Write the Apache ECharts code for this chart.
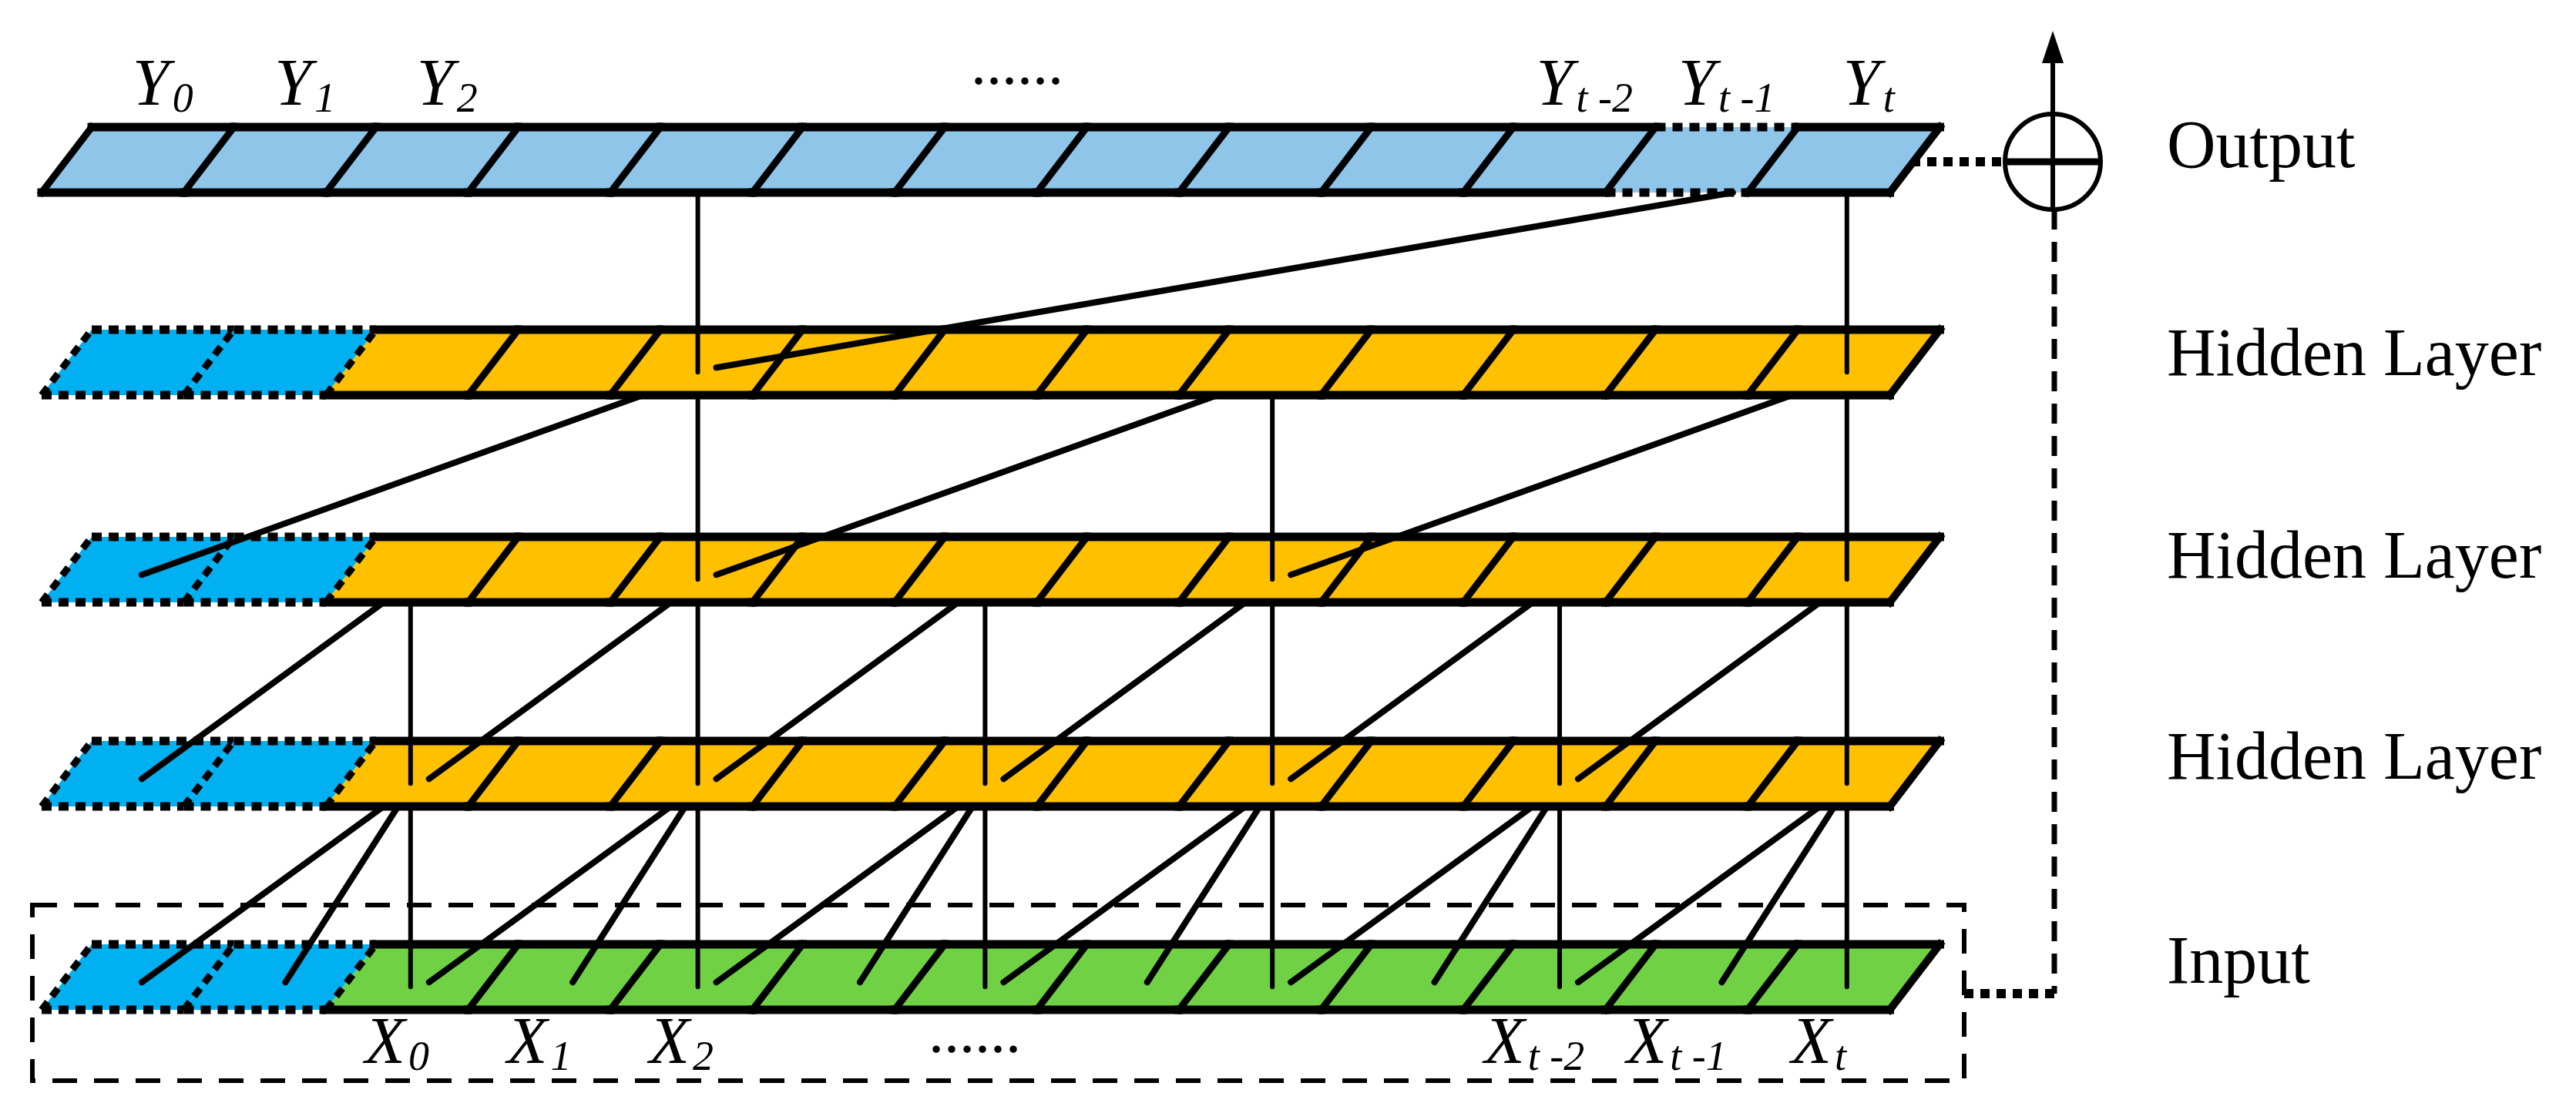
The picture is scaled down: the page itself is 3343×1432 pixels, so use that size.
<!DOCTYPE html>
<html><head><meta charset="utf-8">
<script src="https://cdn.jsdelivr.net/npm/echarts@6/dist/echarts.min.js"></script>
<style>html,body{margin:0;padding:0;background:#fff}#c{width:3343px;height:1432px}</style>
</head><body><div id="c"></div>
<script>
// ---- data ----
const layerNames = ['Output', 'Hidden Layer', 'Hidden Layer', 'Hidden Layer', 'Input'];
const cellCount = 13;
const padCells = [0, 2, 2, 2, 2];
const dottedCells = [[0, 11]];
const outputLabels = [[0, 'Y', '0'], [1, 'Y', '1'], [2, 'Y', '2'], [10, 'Y', 't -2'], [11, 'Y', 't -1'], [12, 'Y', 't']];
const inputLabels = [[2, 'X', '0'], [3, 'X', '1'], [4, 'X', '2'], [10, 'X', 't -2'], [11, 'X', 't -1'], [12, 'X', 't']];
// edges: [lowerLayer, lowerCell, upperLayer, upperCell]
const edgesOutH1 = [[1, 4, 0, 4], [1, 12, 0, 12], [1, 4, 0, 12]];
const edgesH1H2 = [[2, 4, 1, 4], [2, 8, 1, 8], [2, 12, 1, 12], [2, 0, 1, 4], [2, 4, 1, 8], [2, 8, 1, 12]];
const edgesH2H3 = [[3, 2, 2, 2], [3, 4, 2, 4], [3, 6, 2, 6], [3, 8, 2, 8], [3, 10, 2, 10], [3, 12, 2, 12],
  [3, 0, 2, 2], [3, 2, 2, 4], [3, 4, 2, 6], [3, 6, 2, 8], [3, 8, 2, 10], [3, 10, 2, 12]];
const edgesH3In = [[4, 2, 3, 2], [4, 4, 3, 4], [4, 6, 3, 6], [4, 8, 3, 8], [4, 10, 3, 10], [4, 12, 3, 12],
  [4, 1, 3, 2], [4, 0, 3, 2], [4, 3, 3, 4], [4, 2, 3, 4], [4, 5, 3, 6], [4, 4, 3, 6],
  [4, 7, 3, 8], [4, 6, 3, 8], [4, 9, 3, 10], [4, 8, 3, 10], [4, 11, 3, 12], [4, 10, 3, 12]];

// ---- style / geometry ----
const layerFill = ['#8EC5E8', '#FFC000', '#FFC000', '#FFC000', '#70D144'];
const padFill = '#00B0F0';
const layerTop = [165, 428, 697, 962, 1226];
const barH = 85, cellW = 184.5, xBase = 54, slant = 65;
const serif = '"Liberation Serif", "Times New Roman", serif';
const cx = i => 160 + 186.4 * i;

const cellData = [];
layerNames.forEach((n, L) => { for (let c = 0; c < cellCount; c++) cellData.push([L, c]); });
const edges = [].concat(edgesOutH1, edgesH1H2, edgesH2H3, edgesH3In);

function isDotted(L, c) { return dottedCells.some(d => d[0] === L && d[1] === c); }

function seg(api, a, b, dashed, w) {
  const p = api.coord(a), q = api.coord(b);
  return { type: 'line', shape: { x1: p[0], y1: p[1], x2: q[0], y2: q[1] },
    style: { stroke: '#000', lineWidth: w, lineDash: dashed ? [13, 9] : null, lineCap: dashed ? 'butt' : 'square' } };
}

function renderCell(params, api) {
  const L = api.value(0), c = api.value(1);
  const T = layerTop[L], B = T + barH;
  const bl = [xBase + cellW * c, B], br = [xBase + cellW * (c + 1), B];
  const tl = [bl[0] + slant, T], tr = [br[0] + slant, T];
  const pad = c < padCells[L];
  const fill = pad ? padFill : layerFill[L];
  const pts = [tl, tr, br, bl].map(p => api.coord(p));
  const horizDash = pad || isDotted(L, c);
  const leftDash = pad || (c > 0 && c - 1 < padCells[L]);
  const children = [
    { type: 'polygon', shape: { points: pts }, style: { fill: fill } },
    seg(api, tl, tr, horizDash, 11),
    seg(api, bl, br, horizDash, 11),
    seg(api, bl, tl, leftDash, 9)
  ];
  if (c === cellCount - 1) children.push(seg(api, br, tr, false, 10));
  return { type: 'group', children };
}

function renderEdge(params, api) {
  const lo = api.value(0), lc = api.value(1), up = api.value(2), uc = api.value(3);
  const upB = layerTop[up] + barH;
  const lowY = layerTop[lo] + barH * 0.65;
  let a, b, w;
  if (lc === uc) { a = [cx(lc), upB]; b = [cx(lc), lowY]; w = 6; }
  else {
    const S = [cx(lc) + 24, lowY - 6];
    const A = [cx(uc), layerTop[up] + barH * 0.7];
    const t = (S[1] - upB) / (S[1] - A[1]);
    a = S; b = [S[0] + t * (A[0] - S[0]), upB]; w = 8;
  }
  const p = api.coord(a), q = api.coord(b);
  return { type: 'line', shape: { x1: p[0], y1: p[1], x2: q[0], y2: q[1] },
    style: { stroke: '#000', lineWidth: w, lineCap: 'round' } };
}

function richLabel(main, sub) {
  return '{a|' + main + '}{b|' + sub + '}';
}
const richStyle = {
  a: { fontFamily: serif, fontStyle: 'italic', fontSize: 86, lineHeight: 90, fill: '#000' },
  b: { fontFamily: serif, fontStyle: 'italic', fontSize: 54, lineHeight: 90, verticalAlign: 'bottom', fill: '#000', padding: [0, 0, 0, 4] }
};

function renderTopLabel(params, api) {
  const d = outputLabels[params.dataIndex];
  const x = xBase + slant + cellW * (d[0] + 0.5);
  const p = api.coord([x, 158]);
  return { type: 'text', x: p[0], y: p[1],
    style: { text: richLabel(d[1], d[2]), rich: richStyle, align: 'center', verticalAlign: 'bottom' } };
}
function renderBottomLabel(params, api) {
  const d = inputLabels[params.dataIndex];
  const x = xBase + cellW * (d[0] + 0.5);
  const p = api.coord([x, 1312]);
  return { type: 'text', x: p[0], y: p[1],
    style: { text: richLabel(d[1], d[2]), rich: richStyle, align: 'center', verticalAlign: 'top' } };
}
const rightLabelY = [194, 464, 727, 988, 1253];
function renderRightLabel(params, api) {
  const L = params.dataIndex;
  const p = api.coord([2812, rightLabelY[L]]);
  return { type: 'text', x: p[0], y: p[1],
    style: { text: layerNames[L], fontFamily: serif, fontSize: 88, fill: '#000', align: 'left', verticalAlign: 'middle' } };
}

function renderDecor(params, api) {
  const C = api.coord([2664, 210]);
  const r = 62;
  const P = (x, y) => api.coord([x, y]);
  const ln = (a, b, w, dash) => ({ type: 'line', shape: { x1: a[0], y1: a[1], x2: b[0], y2: b[1] },
    style: { stroke: '#000', lineWidth: w, lineDash: dash || null } });
  const children = [
    { type: 'circle', shape: { cx: C[0], cy: C[1], r: r }, style: { fill: 'none', stroke: '#000', lineWidth: 6 } },
    ln(P(2664, 148), P(2664, 272), 6),
    ln(P(2602, 210), P(2726, 210), 9),
    ln(P(2664, 148), P(2664, 75), 6),
    { type: 'polygon', shape: { points: [P(2664, 40), P(2650, 82), P(2678, 82)] }, style: { fill: '#000' } },
    ln(P(2480, 210), P(2602, 210), 12, [12, 9]),
    ln(P(2666, 272), P(2666, 1290), 7, [26, 16]),
    ln(P(2549, 1290), P(2666, 1290), 12, [12, 9]),
    { type: 'rect', shape: { x: P(42, 0)[0], y: P(0, 1175)[1], width: P(2549, 0)[0] - P(42, 0)[0], height: P(0, 1403)[1] - P(0, 1175)[1] },
      style: { fill: 'none', stroke: '#000', lineWidth: 6, lineDash: [32, 22] } },
    { type: 'text', x: P(1320, 0)[0], y: P(0, 128)[1], style: { text: '......', fontFamily: serif, fontSize: 80, fill: '#000', align: 'center', verticalAlign: 'bottom' } },
    { type: 'text', x: P(1265, 0)[0], y: P(0, 1385)[1], style: { text: '......', fontFamily: serif, fontSize: 80, fill: '#000', align: 'center', verticalAlign: 'bottom' } }
  ];
  return { type: 'group', children };
}

const chart = echarts.init(document.getElementById('c'));
chart.setOption({
  animation: false,
  backgroundColor: '#fff',
  grid: { left: 0, right: 0, top: 0, bottom: 0 },
  xAxis: { type: 'value', min: 0, max: 3343, show: false },
  yAxis: { type: 'value', min: 0, max: 1432, inverse: true, show: false },
  series: [
    { type: 'custom', renderItem: renderDecor, data: [[0, 0]], clip: false, z: 1 },
    { type: 'custom', renderItem: renderCell, data: cellData, clip: false, z: 2 },
    { type: 'custom', renderItem: renderEdge, data: edges, clip: false, z: 3 },
    { type: 'custom', renderItem: renderTopLabel, data: outputLabels.map(d => [d[0], 0]), clip: false, z: 4 },
    { type: 'custom', renderItem: renderBottomLabel, data: inputLabels.map(d => [d[0], 0]), clip: false, z: 4 },
    { type: 'custom', renderItem: renderRightLabel, data: layerNames.map((n, i) => [i, 0]), clip: false, z: 4 }
  ]
});
</script></body></html>
